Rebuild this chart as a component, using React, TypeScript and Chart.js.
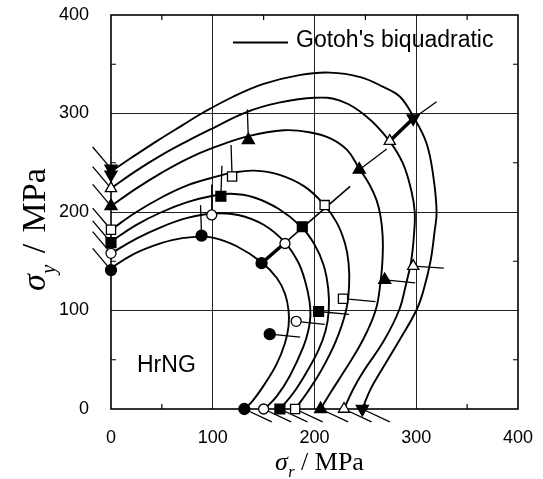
import React, { useEffect, useRef } from 'react';
import { Chart, registerables } from 'chart.js';

Chart.register(...registerables);

type Pt = [number, number];

// ---- axes ----
const X_MIN = 0;
const X_MAX = 400;
const Y_MIN = 0;
const Y_MAX = 400;
const majorStep = 100;
const minorTicks = [50, 150, 250, 350];

// ---- Gotoh's biquadratic loci ----
const curveFilledCircle: Pt[] = [
  [0, 143], [20, 156], [40, 165], [60, 171.5], [80, 174.5], [100, 174], [124, 165], [148, 149],
  [163, 133], [171, 117], [174.5, 100], [174.5, 84], [171, 67], [163, 46], [151.5, 26], [139, 8], [131, 0],
];
const curveOpenCircle: Pt[] = [
  [0, 158], [25, 173], [50, 185], [75, 194], [100, 198.5], [125, 197], [150, 187], [171, 169],
  [184, 149], [191, 129], [195, 110], [196, 95], [194, 80], [189, 63], [176, 34], [163, 13], [151, 0],
];
const curveFilledSquare: Pt[] = [
  [0, 170], [25, 187], [50, 200], [75, 210], [100, 216.5], [118, 218.5], [140, 215], [165, 203],
  [187, 185], [200, 167], [209, 146], [213.5, 122], [214, 100], [211, 80], [204, 60], [192, 37],
  [179, 16], [166, 0],
];
const curveOpenSquare: Pt[] = [
  [0, 182], [25, 200], [50, 215], [75, 227], [100, 235], [120, 240], [141, 242], [165, 238],
  [190, 226], [209, 208], [222, 189], [230, 168], [233.5, 148], [234, 125], [231, 100], [221, 69],
  [206, 38], [193, 17], [181, 0],
];
const curveFilledTriangle: Pt[] = [
  [0, 206], [25, 224], [50, 240], [75, 254], [100, 265], [135, 277], [170, 283], [195, 281],
  [215, 275], [232, 263], [244, 244], [254, 228], [261, 212], [265, 195], [267, 175], [267, 155],
  [265, 130], [260, 100], [247, 69], [229, 38], [216, 17], [206, 0],
];
const curveOpenTriangle: Pt[] = [
  [0, 224], [25, 242], [50, 258], [75, 272], [100, 285], [132, 301], [165, 311], [200, 316],
  [225, 313], [251, 297], [273, 273], [287, 249], [295.5, 220], [298.5, 200], [298, 180],
  [295, 150], [290, 127], [283, 100], [268, 69], [248, 38], [238, 20], [229, 0],
];
const curveFilledDown: Pt[] = [
  [0, 241], [20, 255], [45, 272], [70, 288], [89, 300], [120, 317], [150, 330], [185, 339],
  [215, 341.5], [245, 337], [267.6, 327], [284, 317], [297, 297], [310, 270], [316.8, 236],
  [320, 200], [318, 180], [314, 150], [307, 120], [300, 100], [283, 69], [265, 38], [255, 20], [247, 0],
];

// ---- measured yield points ----
const ptsFilledCircle: Pt[] = [[0, 141], [89, 176], [148, 148], [156, 76], [131, 0]];
const ptsOpenCircle: Pt[] = [[0, 158], [99, 197], [171, 168], [182, 89], [150, 0]];
const ptsFilledSquare: Pt[] = [[0, 169], [108, 216], [188, 185], [204, 99], [166, 0]];
const ptsOpenSquare: Pt[] = [[0, 182], [119, 236], [210, 207], [228, 112], [181, 0]];
const ptsFilledTriangle: Pt[] = [[0, 206], [135, 273], [244, 243], [269, 131], [206, 0]];
const ptsOpenTriangle: Pt[] = [[0, 224], [274, 272], [297, 145], [229, 0]];
const ptsFilledDown: Pt[] = [[0, 244], [0, 238], [297, 295], [247, 0]];

// ---- direction tips (one per point, null = none) ----
const tipsFilledCircle: (Pt | null)[] = [[-18, 163], [88, 207], null, [186, 73], [158, -13]];
const tipsOpenCircle: (Pt | null)[] = [[-18, 180], [99, 228], null, [210, 86], [177, -13]];
const tipsFilledSquare: (Pt | null)[] = [[-18, 191], [109, 247], null, [234, 96], [193, -13]];
const tipsOpenSquare: (Pt | null)[] = [[-18, 204], [118, 268], null, [260, 109], [208, -13]];
const tipsFilledTriangle: (Pt | null)[] = [[-18, 228], [134, 304], [271, 264], [299, 128], [233, -13]];
const tipsOpenTriangle: (Pt | null)[] = [[-18, 246], null, [327, 143], [256, -13]];
const tipsFilledDown: (Pt | null)[] = [[-18, 266], null, [320, 312], [274, -13]];

// diagonal (equibiaxial) direction lines
const diagLowerThin: Pt[] = [[148, 148], [235, 226]];
const diagLowerThick: Pt[] = [[148, 148], [168, 166]];
const diagUpperThick: Pt[] = [[274, 272], [297, 295]];

const legendLabel = "Gotoh's biquadratic";
const materialLabel = 'HrNG';

interface Series {
  curve: Pt[];
  pts: Pt[];
  tips: (Pt | null)[];
  style: string;
  rotation: number;
  radius: number;
  filled: boolean;
}

const SERIES: Series[] = [
  { curve: curveFilledCircle, pts: ptsFilledCircle, tips: tipsFilledCircle, style: 'circle', rotation: 0, radius: 5.5, filled: true },
  { curve: curveOpenCircle, pts: ptsOpenCircle, tips: tipsOpenCircle, style: 'circle', rotation: 0, radius: 5, filled: false },
  { curve: curveFilledSquare, pts: ptsFilledSquare, tips: tipsFilledSquare, style: 'rect', rotation: 0, radius: 7, filled: true },
  { curve: curveOpenSquare, pts: ptsOpenSquare, tips: tipsOpenSquare, style: 'rect', rotation: 0, radius: 6.5, filled: false },
  { curve: curveFilledTriangle, pts: ptsFilledTriangle, tips: tipsFilledTriangle, style: 'triangle', rotation: 0, radius: 7, filled: true },
  { curve: curveOpenTriangle, pts: ptsOpenTriangle, tips: tipsOpenTriangle, style: 'triangle', rotation: 0, radius: 6.5, filled: false },
  { curve: curveFilledDown, pts: ptsFilledDown, tips: tipsFilledDown, style: 'triangle', rotation: 180, radius: 7, filled: true },
];

const toXY = (p: Pt) => ({ x: p[0], y: p[1] });

const SANS = "'Liberation Sans', Arial, sans-serif";
const SERIF = "'Liberation Serif', 'Times New Roman', serif";

function drawTitle(ctx: CanvasRenderingContext2D, sub: string, size: number, gap: number) {
  let x = 0;
  ctx.font = `italic ${size}px ${SERIF}`;
  ctx.fillText('\u03c3', x, 0);
  x += ctx.measureText('\u03c3').width + 0.5;
  const subSize = Math.round(size * 0.6);
  ctx.font = `italic ${subSize}px ${SERIF}`;
  ctx.fillText(sub, x, size * 0.28);
  x += ctx.measureText(sub).width;
  ctx.font = `${size}px ${SERIF}`;
  x += ctx.measureText(' ').width + gap;
  ctx.fillText('/', x, 0);
  x += ctx.measureText('/').width + ctx.measureText(' ').width + gap;
  ctx.fillText('MPa', x, 0);
}

const decorPlugin = {
  id: 'decor',
  beforeDatasetsDraw(chart: any) {
    const { ctx, chartArea: a, scales } = chart;
    const xs = scales.x;
    const ys = scales.y;
    ctx.save();
    ctx.strokeStyle = '#000';
    ctx.lineWidth = 1.6;
    ctx.strokeRect(a.left, a.top, a.right - a.left, a.bottom - a.top);
    ctx.lineWidth = 1.2;
    const L = 5;
    ctx.beginPath();
    minorTicks.forEach((v) => {
      const px = xs.getPixelForValue(v);
      ctx.moveTo(px, a.bottom);
      ctx.lineTo(px, a.bottom - L);
      ctx.moveTo(px, a.top);
      ctx.lineTo(px, a.top + L);
      const py = ys.getPixelForValue(v);
      ctx.moveTo(a.left, py);
      ctx.lineTo(a.left + L, py);
      ctx.moveTo(a.right, py);
      ctx.lineTo(a.right - L, py);
    });
    ctx.stroke();
    ctx.restore();
  },
  afterDraw(chart: any) {
    const { ctx, chartArea: a } = chart;
    ctx.save();
    ctx.fillStyle = '#000';
    ctx.strokeStyle = '#000';
    ctx.textBaseline = 'alphabetic';
    ctx.textAlign = 'left';
    // x title
    ctx.save();
    ctx.translate(275, 470);
    drawTitle(ctx, 'r', 26, 0);
    ctx.restore();
    // y title
    ctx.save();
    ctx.translate(45, 291);
    ctx.rotate(-Math.PI / 2);
    drawTitle(ctx, 'y', 34, 3);
    ctx.restore();
    // legend
    ctx.lineWidth = 1.8;
    ctx.beginPath();
    ctx.moveTo(a.left + 122, a.top + 27.5);
    ctx.lineTo(a.left + 177, a.top + 27.5);
    ctx.stroke();
    ctx.font = `23px ${SANS}`;
    ctx.fillText(legendLabel, a.left + 185, a.top + 31.5);
    // material label
    ctx.fillText(materialLabel, a.left + 26, a.bottom - 37.5);
    ctx.restore();
  },
};

export default function App() {
  const ref = useRef<HTMLCanvasElement>(null);
  useEffect(() => {
    const canvas = ref.current;
    if (!canvas) return;
    const datasets: any[] = [];
    SERIES.forEach((s) => {
      datasets.push({
        data: s.pts.map(toXY),
        showLine: false,
        pointStyle: s.style,
        pointRotation: s.rotation,
        pointRadius: s.radius,
        pointBackgroundColor: s.filled ? '#000' : '#fff',
        pointBorderColor: '#000',
        pointBorderWidth: 1.3,
        clip: false,
        order: 0,
      });
    });
    SERIES.forEach((s) => {
      s.pts.forEach((p, i) => {
        const t = s.tips[i];
        if (!t) return;
        datasets.push({
          data: [toXY(p), toXY(t)],
          showLine: true,
          borderColor: '#000',
          borderWidth: 1.3,
          pointRadius: 0,
          clip: false,
          order: 1,
        });
      });
    });
    [
      { d: diagLowerThin, w: 1.6 },
      { d: diagLowerThick, w: 3.5 },
      { d: diagUpperThick, w: 3.5 },
    ].forEach((l) => {
      datasets.push({
        data: l.d.map(toXY),
        showLine: true,
        borderColor: '#000',
        borderWidth: l.w,
        pointRadius: 0,
        clip: false,
        order: 1,
      });
    });
    SERIES.forEach((s) => {
      datasets.push({
        data: s.curve.map(toXY),
        showLine: true,
        borderColor: '#000',
        borderWidth: 1.9,
        pointRadius: 0,
        tension: 0.4,
        clip: false,
        order: 2,
      });
    });

    const tickFont = { family: SANS, size: 18 };
    const zeroPad = (s: any) => {
      s.paddingTop = 0;
      s.paddingBottom = 0;
      s.paddingLeft = 0;
      s.paddingRight = 0;
    };
    const chart = new Chart(canvas, {
      type: 'scatter',
      data: { datasets },
      options: {
        responsive: false,
        animation: false,
        events: [],
        layout: { padding: { left: 0, right: 25, top: 15, bottom: 0 } },
        plugins: { legend: { display: false }, tooltip: { enabled: false } },
        scales: {
          x: {
            type: 'linear',
            min: X_MIN,
            max: X_MAX,
            ticks: { stepSize: majorStep, font: tickFont, color: '#000', padding: 18, maxRotation: 0 },
            grid: {
              drawTicks: false,
              lineWidth: 1,
              color: (c: any) => (c.tick && (c.tick.value === X_MIN || c.tick.value === X_MAX) ? 'rgba(0,0,0,0)' : '#222'),
            },
            border: { display: false },
            afterFit: (s: any) => { s.height = 70; zeroPad(s); },
          },
          y: {
            type: 'linear',
            min: Y_MIN,
            max: Y_MAX,
            ticks: { stepSize: majorStep, font: tickFont, color: '#000', padding: 22 },
            grid: {
              drawTicks: false,
              lineWidth: 1,
              color: (c: any) => (c.tick && (c.tick.value === Y_MIN || c.tick.value === Y_MAX) ? 'rgba(0,0,0,0)' : '#222'),
            },
            border: { display: false },
            afterFit: (s: any) => { s.width = 111; zeroPad(s); },
          },
        },
      } as any,
      plugins: [decorPlugin],
    });
    return () => chart.destroy();
  }, []);
  return (
    <div style={{ position: 'fixed', left: 0, top: 0, width: 543, height: 479, background: '#fff' }}>
      <canvas ref={ref} width={543} height={479} style={{ display: 'block' }} />
    </div>
  );
}
